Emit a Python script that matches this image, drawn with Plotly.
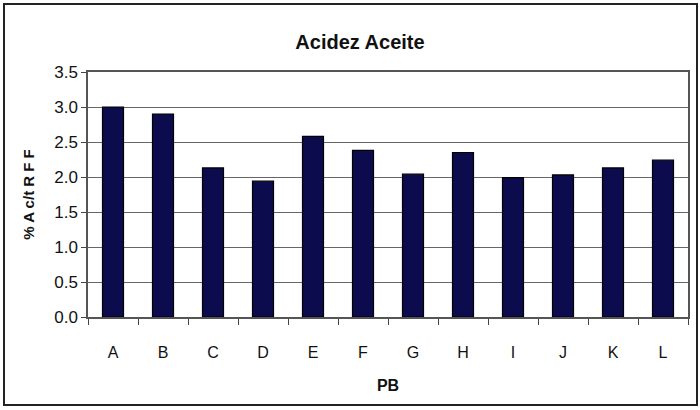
import plotly.graph_objects as go

categories = ["A", "B", "C", "D", "E", "F", "G", "H", "I", "J", "K", "L"]
values = [3.00, 2.90, 2.13, 1.94, 2.58, 2.38, 2.04, 2.35, 1.99, 2.03, 2.13, 2.24]
y_ticks = [0.0, 0.5, 1.0, 1.5, 2.0, 2.5, 3.0, 3.5]
y_tick_labels = ["0.0", "0.5", "1.0", "1.5", "2.0", "2.5", "3.0", "3.5"]

W, H = 700, 410
L, R, T, B = 88, 12, 72, 93
pw, ph = W - L - R, H - T - B

font_main = "Liberation Sans Narrow, Arial Narrow, Liberation Sans, Arial, sans-serif"

fig = go.Figure(go.Bar(
    x=categories, y=values,
    marker=dict(color="#0b0b4d", line=dict(color="#000000", width=1.2)),
    width=0.42,
))

fig.update_layout(
    width=W, height=H,
    margin=dict(l=L, r=R, t=T, b=B, autoexpand=False),
    paper_bgcolor="white", plot_bgcolor="white",
    showlegend=False,
    font=dict(family=font_main, color="#111111", size=15),
    title=dict(text="<b>Acidez Aceite</b>", x=360 / W, xanchor="center",
               y=1 - 42 / H, yanchor="middle",
               font=dict(family=font_main, size=20, color="#111111")),
)

fig.update_xaxes(
    type="category", tickson="boundaries", ticks="outside", ticklen=6,
    tickcolor="#444444", showline=True, linecolor="#555555", linewidth=1.5,
    mirror=True, showgrid=False, automargin=False, ticklabelstandoff=20,
    tickfont=dict(family=font_main, size=16, color="#111111"),
    title=dict(text="<b>PB</b>", standoff=20,
               font=dict(family=font_main, size=16, color="#111111")),
)

fig.update_yaxes(
    range=[0, 3.5], tickvals=y_ticks, ticktext=y_tick_labels,
    ticks="outside", ticklen=5, tickcolor="#444444", automargin=False,
    showline=True, linecolor="#555555", linewidth=1.5, mirror=True,
    showgrid=True, gridcolor="#666666", gridwidth=1,
    zeroline=False,
    tickfont=dict(family=font_main, size=17, color="#111111"),
    title=dict(text="<b>% A c/t R F F</b>", standoff=16,
               font=dict(family=font_main, size=15, color="#111111")),
)

# outer chart border
fig.add_shape(type="rect", xref="paper", yref="paper",
              x0=(4 - L) / pw, x1=(697 - L) / pw,
              y0=-(405 - T - ph) / ph, y1=1 + (T - 4) / ph,
              line=dict(color="#222222", width=2), layer="below")

fig.write_html("out.html", config={"displayModeBar": False},
               post_script="document.body.style.margin='0';document.body.style.overflow='hidden';")
